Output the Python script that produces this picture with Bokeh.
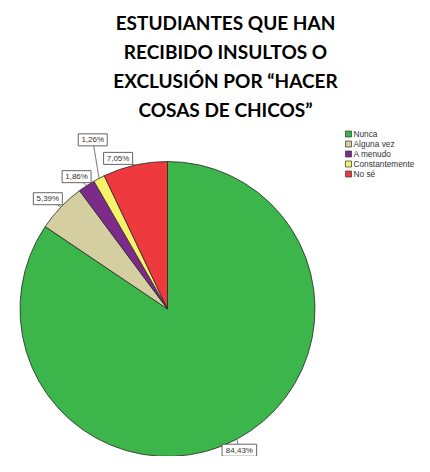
import numpy as np
from bokeh.plotting import figure
from bokeh.models import Range1d
from bokeh.core.properties import value
from bokeh.embed import file_html
from bokeh.resources import INLINE

# ---- data ----
categories = ["Nunca", "Alguna vez", "A menudo", "Constantemente", "No sé"]
percents = [84.43, 5.39, 1.86, 1.26, 7.05]
colors = ["#3cb54a", "#d5cea0", "#7d2b8b", "#f7f26a", "#ee3a3f"]
title_lines = ["ESTUDIANTES QUE HAN", "RECIBIDO INSULTOS O",
               "EXCLUSIÓN POR “HACER", "COSAS DE CHICOS”"]

# ---- layout (pixel-like coordinates, y measured downward then converted) ----
W, H = 414, 456
def sy(y):
    return H - y

p = figure(width=W, height=H, output_backend="svg", toolbar_location=None,
           x_range=Range1d(0, W), y_range=Range1d(0, H),
           x_axis_type=None, y_axis_type=None, min_border=0,
           min_border_left=0, min_border_right=0, min_border_top=0, min_border_bottom=0)
p.outline_line_color = None
p.grid.visible = False
p.background_fill_color = "white"

# title
tx = 225
ty = [22, 51, 80, 109]
p.text(x=[tx] * 4, y=[sy(v) for v in ty], text=title_lines,
       text_font=value("Lato"), text_font_style="bold", text_font_size="19px",
       text_align="center", text_baseline="middle", text_color="#000000")

# pie
cx, cy, r = 167, 308.5, 147.5
fr = np.array(percents) / np.sum(percents)
cum = np.concatenate([[0], np.cumsum(fr)])
start_cw = cum[:-1] * 2 * np.pi
end_cw = cum[1:] * 2 * np.pi
start = np.pi / 2 - start_cw
end = np.pi / 2 - end_cw
p.wedge(x=[cx] * 5, y=[sy(cy)] * 5, radius=r, start_angle=list(start), end_angle=list(end),
        direction="clock", fill_color=colors, line_color="#2a2a2a", line_width=0.8)

# labels with leader lines
mid = (start_cw + end_cw) / 2
ax = cx + r * np.sin(mid)
ay = cy - r * np.cos(mid)
offsets = [(2.6, 11.0), (-13, -8.4), (-10, -9), (-6.3, -38.5), (-17, -6.7)]
label_txt = [f"{v:.2f}".replace(".", ",") + "%" for v in percents]
bx = [ax[i] + offsets[i][0] for i in range(5)]
by = [ay[i] + offsets[i][1] for i in range(5)]
for i in range(5):
    p.line(x=[ax[i], bx[i]], y=[sy(ay[i]), sy(by[i])], line_color="#555555", line_width=0.8)
bw = [5.6 * len(t) + 1 for t in label_txt]
p.rect(x=bx, y=[sy(v) for v in by], width=bw, height=12, fill_color="white",
       line_color="#555555", line_width=0.9)
p.text(x=bx, y=[sy(v) for v in by], text=label_txt, text_font=value("Liberation Sans"),
       text_font_size="8px", text_align="center", text_baseline="middle", text_color="#333333")

# legend
lx = 348
ly = [133.5 + 10 * i for i in range(5)]
p.rect(x=[lx] * 5, y=[sy(v) for v in ly], width=6, height=6, fill_color=colors,
       line_color="#333333", line_width=0.7)
p.text(x=[lx + 5] * 5, y=[sy(v) for v in ly], text=categories,
       text_font=value("Liberation Sans"), text_font_size="8.3px",
       text_align="left", text_baseline="middle", text_color="#333333")

open("out.html", "w").write(file_html(p, INLINE))
